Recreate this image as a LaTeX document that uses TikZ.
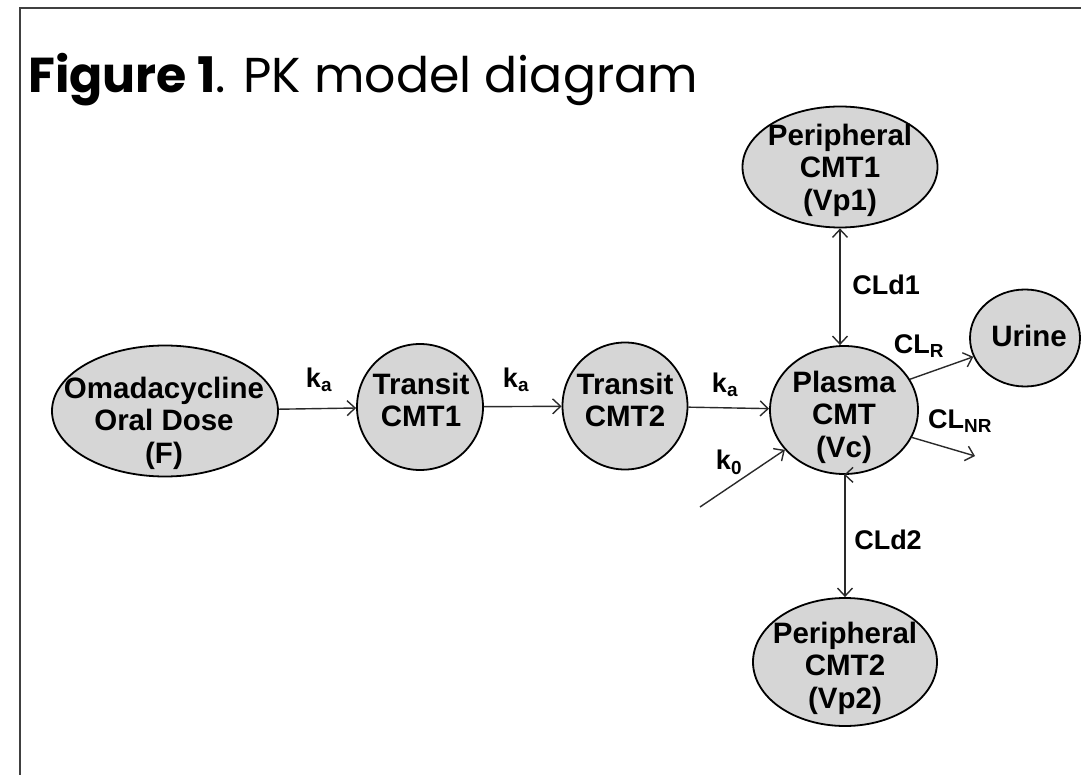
\documentclass[tikz,border=0pt]{standalone}
\usepackage{fontspec}
\setmainfont{Liberation Sans}
\newfontfamily\titlefont{Poppins}
\usetikzlibrary{shapes.geometric,arrows.meta}
\definecolor{nodefill}{HTML}{D6D6D6}
\definecolor{edge}{HTML}{2A2A2A}
\begin{document}
\begin{tikzpicture}[x=1pt,y=-1pt,
  comp/.style={ellipse,draw=black,line width=1.8pt,fill=nodefill,inner sep=0pt},
  ctext/.style={inner sep=0pt,align=center,font=\fontsize{29.5}{32.5}\selectfont\bfseries},
  conn/.style={draw=edge,line width=1.4pt,-{Straight Barb[length=8pt,width=15pt]}},
  bconn/.style={draw=edge,line width=1.4pt,{Straight Barb[length=8pt,width=15pt]}-{Straight Barb[length=8pt,width=15pt]}},
  lab/.style={font=\fontsize{27}{30}\selectfont\bfseries,inner sep=0pt}]
\useasboundingbox (0,0) rectangle (1081,775);
\draw[line width=2pt,color=black!75] (1081,8) -- (20,8) -- (20,775);
\node[anchor=base west,inner sep=0pt,font=\titlefont\fontsize{49}{52}\selectfont] (title) at (28,93)
  {\textbf{Figure 1}. PK model diagram};
\node[comp,minimum width=226pt,minimum height=131pt] (oral) at (165,411) {};
\node[comp,minimum width=126pt,minimum height=126pt] (t1) at (420,407) {};
\node[comp,minimum width=125pt,minimum height=127pt] (t2) at (625,406) {};
\node[comp,minimum width=148pt,minimum height=128pt] (pl) at (844,410) {};
\node[comp,minimum width=195pt,minimum height=121pt] (p1) at (840,167) {};
\node[comp,minimum width=184pt,minimum height=128pt] (p2) at (845,662) {};
\node[comp,minimum width=110pt,minimum height=97pt] (ur) at (1025,338) {};
\node[ctext] (oraltx) at (164,423) {Omadacycline\\Oral Dose\\(F)};
\node[ctext] (t1tx) at (421,400) {Transit\\CMT1};
\node[ctext] (t2tx) at (625,400) {Transit\\CMT2};
\node[ctext] (pltx) at (844,417) {Plasma\\CMT\\(Vc)};
\node[ctext] (p1tx) at (840,170) {Peripheral\\CMT1\\(Vp1)};
\node[ctext] (p2tx) at (845,668) {Peripheral\\CMT2\\(Vp2)};
\node[ctext] (urtx) at (1029,336) {Urine};
\coordinate (k0s) at (700,507);
\coordinate (nre) at (975,456);
\draw[conn] (oral) -- (t1);
\draw[conn] (t1) -- (t2);
\draw[conn] (t2) -- (pl);
\draw[conn] (k0s) -- (pl);
\draw[bconn] (p1.south) -- (p1.south |- pl.north);
\draw[bconn] (pl.south) -- (pl.south -| p2.north) -- (p2.north);
\draw[conn] (pl.25) -- (ur.200);
\draw[conn] (pl.-22) -- (nre);
\node[lab] (la1) at (319,380) {k\textsubscript{a}};
\node[lab] (la2) at (516,380) {k\textsubscript{a}};
\node[lab] (la3) at (725,385) {k\textsubscript{a}};
\node[lab] (lk0) at (729,462) {k\textsubscript{0}};
\node[lab] (lcd1) at (886,285) {CLd1};
\node[lab] (lcd2) at (888,540) {CLd2};
\node[lab] (lcr) at (919,346) {CL\textsubscript{R}};
\node[lab] (lcnr) at (960,421) {CL\textsubscript{NR}};
\end{tikzpicture}
\end{document}
